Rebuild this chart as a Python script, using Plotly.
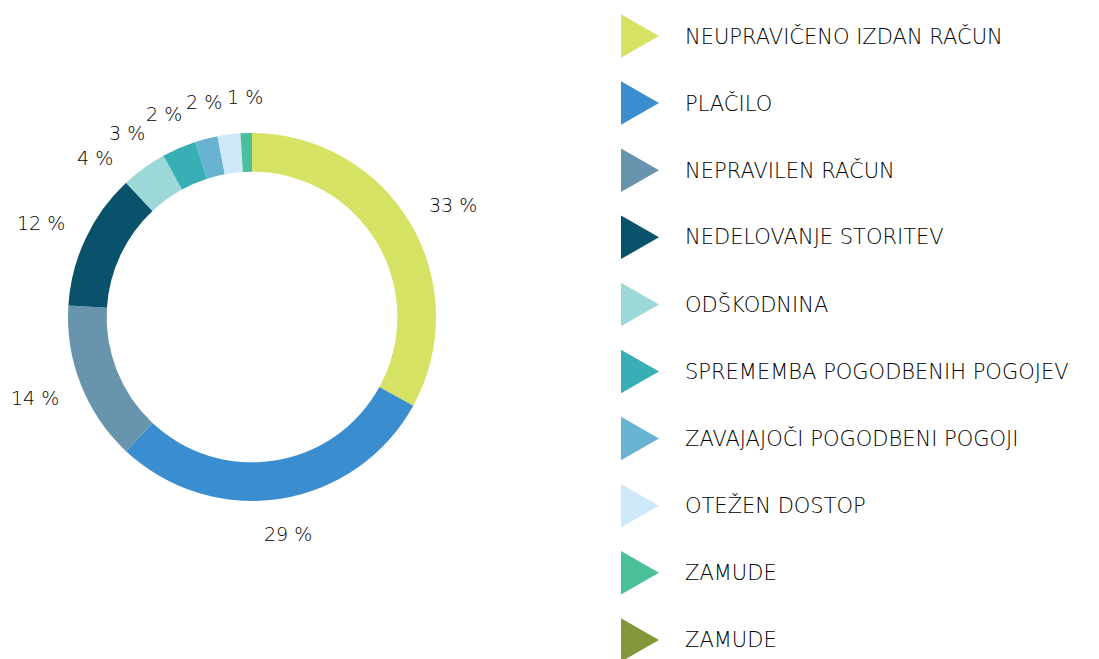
import math
import plotly.graph_objects as go

categories = ["NEUPRAVIČENO IZDAN RAČUN", "PLAČILO", "NEPRAVILEN RAČUN",
              "NEDELOVANJE STORITEV", "ODŠKODNINA", "SPREMEMBA POGODBENIH POGOJEV",
              "ZAVAJAJOČI POGODBENI POGOJI", "OTEŽEN DOSTOP", "ZAMUDE", "ZAMUDE"]
values = [33, 29, 14, 12, 4, 3, 2, 2, 1, 0]
colors = ["#D5E264", "#3A8DCE", "#6895AD", "#0A526B", "#9DD8D9",
          "#38AFB5", "#68B3D1", "#CDE8F8", "#4ABF9A", "#84963A"]

W, H = 1099, 659
OFF = 8            # page body margin: the plot div sits 8px in from the page corner
FONT = "DejaVu Sans"
TXT = "#000000"

# pie geometry in page pixels
CX, CY, R = 252, 317, 184

pie_idx = [i for i, v in enumerate(values) if v > 0]
pie_vals = [values[i] for i in pie_idx]

fig = go.Figure()
fig.add_trace(go.Pie(
    labels=[f"{categories[i]}#{i}" for i in pie_idx],
    values=pie_vals,
    marker=dict(colors=[colors[i] for i in pie_idx], line=dict(width=0)),
    hole=0.79, sort=False, direction="clockwise", rotation=0,
    textinfo="none",
    domain=dict(x=[(CX - R - OFF) / W, (CX + R - OFF) / W],
                y=[1 - (CY + R - OFF) / H, 1 - (CY - R - OFF) / H]),
    showlegend=False, hoverinfo="label+percent",
))

# outside percentage labels, placed from each slice's mid angle
total = sum(pie_vals)
mids, acc = [], 0.0
for v in pie_vals:
    mids.append((acc + v / 2) / total * 360.0)
    acc += v
phi = list(mids)
D = 10.5
for i in range(len(phi) - 2, -1, -1):
    phi[i] = min(phi[i], phi[i + 1] - D)
gap = 26
for v, a in zip(pie_vals, phi):
    t = f"{v} %"
    w, h = 11.5 * len(t), 20
    s, c = math.sin(math.radians(a)), math.cos(math.radians(a))
    x = CX + (R + gap) * s + s * w / 2
    y = CY - (R + gap) * c - c * h / 2
    fig.add_annotation(x=x, y=y, text=t, showarrow=False, xanchor="center",
                       yanchor="middle",
                       font=dict(family=FONT, size=19, color=TXT, weight=300))

# custom legend with triangle swatches
leg_y0, leg_dy = 36, 67.1
leg_y = [leg_y0 + k * leg_dy for k in range(len(categories))]
TW, TH = 38, 43.5
for col, y in zip(colors, leg_y):
    fig.add_shape(type="path", xref="x", yref="y",
                  path=f"M 621,{y - TH / 2} L {621 + TW},{y} L 621,{y + TH / 2} Z",
                  fillcolor=col, line=dict(width=0))
for name, y in zip(categories, leg_y):
    fig.add_annotation(x=683, y=y, text=name, showarrow=False, xanchor="left",
                       yanchor="middle",
                       font=dict(family=FONT, size=21, color=TXT, weight=300))

fig.update_layout(
    width=W, height=H, margin=dict(l=0, r=0, t=0, b=0),
    paper_bgcolor="white", plot_bgcolor="white",
    xaxis=dict(range=[OFF, W + OFF], visible=False, fixedrange=True),
    yaxis=dict(range=[H + OFF, OFF], visible=False, fixedrange=True),
)
fig.write_html("out.html")
